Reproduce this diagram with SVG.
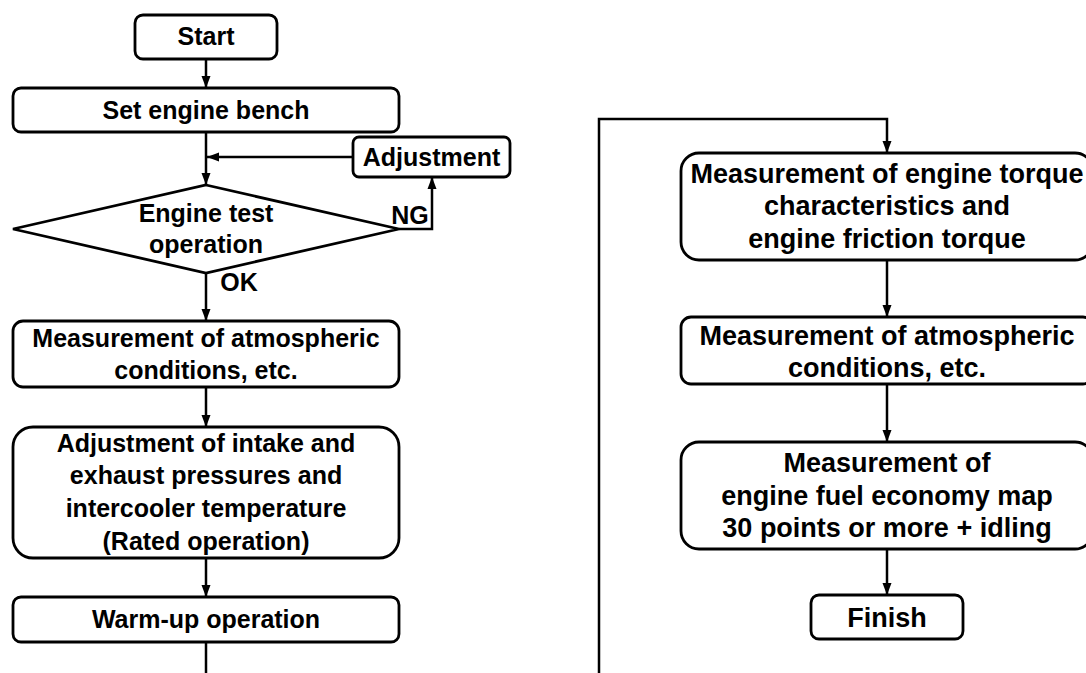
<svg xmlns="http://www.w3.org/2000/svg" width="1086" height="673" viewBox="0 0 1086 673">
  <style>
    .box { fill: #fff; stroke: #000; stroke-width: 2.8; }
    .ln { fill: none; stroke: #000; stroke-width: 2.5; }
    .t { font-family: "Liberation Sans", Arial, sans-serif; font-weight: bold; font-size: 25px; fill: #000; text-anchor: middle; }
    .tr { font-size: 27px; }
  </style>
  <defs>
    <marker id="arr" viewBox="0 0 12 10" refX="12" refY="5" markerWidth="12" markerHeight="10" markerUnits="userSpaceOnUse" orient="auto">
      <path d="M0,0.5 L12,5 L0,9.5 Z" fill="#000"/>
    </marker>
  </defs>
  <rect width="1086" height="673" fill="#fff"/>

  <!-- connectors -->
  <g id="connectors">
    <line class="ln" x1="206" y1="59" x2="206" y2="88" marker-end="url(#arr)"/>
    <line class="ln" x1="206" y1="132" x2="206" y2="185" marker-end="url(#arr)"/>
    <line class="ln" x1="353" y1="157" x2="207" y2="157" marker-end="url(#arr)"/>
    <polyline class="ln" points="399,229 432,229 432,177" marker-end="url(#arr)"/>
    <line class="ln" x1="206" y1="273" x2="206" y2="321" marker-end="url(#arr)"/>
    <line class="ln" x1="206" y1="387" x2="206" y2="427" marker-end="url(#arr)"/>
    <line class="ln" x1="206" y1="551" x2="206" y2="597" marker-end="url(#arr)"/>
    <line class="ln" x1="206" y1="642" x2="206" y2="673"/>
    <polyline class="ln" points="599,673 599,119 887,119 887,153" marker-end="url(#arr)"/>
    <line class="ln" x1="887" y1="260" x2="887" y2="317" marker-end="url(#arr)"/>
    <line class="ln" x1="887" y1="384" x2="887" y2="442" marker-end="url(#arr)"/>
    <line class="ln" x1="887" y1="549" x2="887" y2="595" marker-end="url(#arr)"/>
  </g>

  <g id="start">
    <rect class="box" x="135" y="15" width="142" height="44" rx="8"/>
    <text class="t" x="206" y="45">Start</text>
  </g>

  <g id="bench">
    <rect class="box" x="13" y="88" width="386" height="44" rx="8"/>
    <text class="t" x="206" y="119">Set engine bench</text>
  </g>

  <g id="adjustment">
    <rect class="box" x="353" y="137" width="157" height="40" rx="6"/>
    <text class="t" x="431.5" y="166">Adjustment</text>
  </g>

  <g id="test">
    <polygon class="box" points="206,185 399,229 206,273 13,229"/>
    <text class="t" x="206" y="222">Engine test</text>
    <text class="t" x="206" y="253">operation</text>
    <text class="t" x="410" y="224">NG</text>
    <text class="t" x="239" y="291">OK</text>
  </g>

  <g id="atmos1">
    <rect class="box" x="13" y="321" width="386" height="66" rx="10"/>
    <text class="t" x="206" y="347">Measurement of atmospheric</text>
    <text class="t" x="206" y="379">conditions, etc.</text>
  </g>

  <g id="intake">
    <rect class="box" x="13" y="427" width="386" height="131" rx="20"/>
    <text class="t" x="206" y="452">Adjustment of intake and</text>
    <text class="t" x="206" y="484">exhaust pressures and</text>
    <text class="t" x="206" y="517">intercooler temperature</text>
    <text class="t" x="206" y="550">(Rated operation)</text>
  </g>

  <g id="warmup">
    <rect class="box" x="13" y="597" width="386" height="45" rx="8"/>
    <text class="t" x="206" y="628">Warm-up operation</text>
  </g>

  <g id="torque">
    <rect class="box" x="681" y="153" width="412" height="107" rx="18"/>
    <text class="t tr" x="887" y="183">Measurement of engine torque</text>
    <text class="t tr" x="887" y="215">characteristics and</text>
    <text class="t tr" x="887" y="248">engine friction torque</text>
  </g>

  <g id="atmos2">
    <rect class="box" x="681" y="317" width="412" height="67" rx="10"/>
    <text class="t tr" x="887" y="345">Measurement of atmospheric</text>
    <text class="t tr" x="887" y="377">conditions, etc.</text>
  </g>

  <g id="fuelmap">
    <rect class="box" x="681" y="442" width="412" height="107" rx="18"/>
    <text class="t tr" x="887" y="472">Measurement of</text>
    <text class="t tr" x="887" y="505">engine fuel economy map</text>
    <text class="t tr" x="887" y="537">30 points or more + idling</text>
  </g>

  <g id="finish">
    <rect class="box" x="811" y="595" width="152" height="44" rx="8"/>
    <text class="t tr" x="887" y="627">Finish</text>
  </g>
</svg>
